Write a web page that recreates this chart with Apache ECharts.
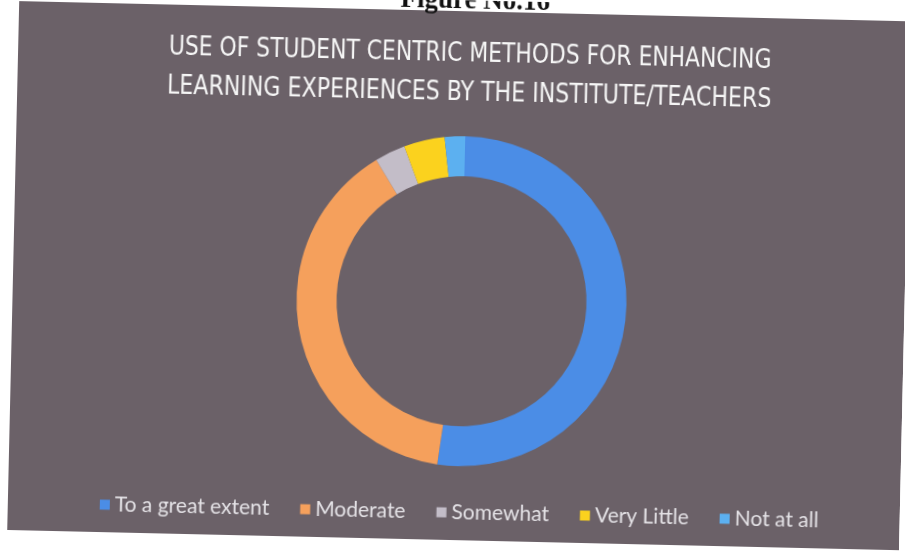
<!DOCTYPE html>
<html>
<head>
<meta charset="utf-8">
<script src="https://cdn.jsdelivr.net/npm/echarts@6/dist/echarts.min.js"></script>
<style>
  html, body { margin: 0; padding: 0; background: #ffffff; overflow: hidden; }
  #chart { position: absolute; left: 0; top: 0; width: 905px; height: 560px; transform: rotate(1.3deg); transform-origin: 452px 280px; }
</style>
</head>
<body>
<div id="chart"></div>
<script>
const categories = ['To a great extent', 'Moderate', 'Somewhat', 'Very Little', 'Not at all'];
const values = [52, 39, 3, 4, 2];
const colors = ['#4b8de6', '#f5a05c', '#c3bdc8', '#fbd21e', '#5cb0f0'];
const titleLines = ['USE OF STUDENT CENTRIC METHODS FOR ENHANCING', 'LEARNING EXPERIENCES BY THE INSTITUTE/TEACHERS'];
const figureCaption = 'Figure No.16';

const titleStyle = { fontFamily: '"DejaVu Sans Condensed", "DejaVu Sans", sans-serif', fontSize: 27, fill: '#f6f6f6', align: 'center', verticalAlign: 'middle' };
const titleScale = [0.9, 0.91];

const chart = echarts.init(document.getElementById('chart'), null, { renderer: 'canvas' });
chart.setOption({
  backgroundColor: 'transparent',
  animation: false,
  graphic: [{
    type: 'rect', z: -10, silent: true,
    shape: { x: 13, y: 11, width: 910, height: 529 },
    style: { fill: '#6b6168' }
  }].concat(titleLines.map((t, i) => ({
    type: 'text', silent: true,
    x: 465, y: 54 + i * 39,
    scaleX: titleScale[i], scaleY: 1,
    style: Object.assign({ text: t }, titleStyle)
  }))),
  title: [{
    text: figureCaption,
    left: 464,
    textAlign: 'center',
    top: -17,
    textStyle: { fontFamily: 'Liberation Serif, serif', fontWeight: 'bold', fontSize: 27, color: '#111111' }
  }],
  legend: {
    data: categories,
    top: 497,
    left: 100,
    icon: 'rect',
    itemWidth: 10,
    itemHeight: 10,
    itemGap: 31,
    textStyle: { fontFamily: 'Lato, Open Sans, sans-serif', fontSize: 21, color: '#e4e2e6' }
  },
  series: [{
    type: 'pie',
    center: [462, 301],
    radius: [125, 165],
    startAngle: 90,
    clockwise: true,
    label: { show: false },
    labelLine: { show: false },
    emphasis: { disabled: true },
    itemStyle: { borderWidth: 0 },
    data: categories.map((c, i) => ({ name: c, value: values[i], itemStyle: { color: colors[i] } }))
  }]
});
</script>
</body>
</html>
